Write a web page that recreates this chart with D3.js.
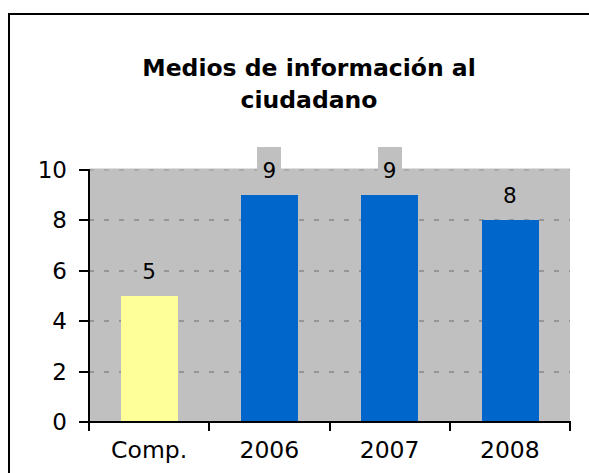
<!DOCTYPE html>
<html><head><meta charset="utf-8">
<script src="https://cdn.jsdelivr.net/npm/d3@7"></script>
<style>html,body{margin:0;padding:0;background:#fff;overflow:hidden}</style>
</head><body>
<script>
const categories = ["Comp.", "2006", "2007", "2008"];
const values = [5, 9, 9, 8];
const barColors = ["#FFFF99", "#0066CC", "#0066CC", "#0066CC"];
const yTicks = [0, 2, 4, 6, 8, 10];
const titleLines = ["Medios de información al", "ciudadano"];

const W = 589, H = 473;
const svg = d3.select("body").append("svg").attr("width", W).attr("height", H);
const font = "DejaVu Sans, Verdana, sans-serif";

// outer border
svg.append("rect").attr("x", 9).attr("y", 14).attr("width", 620).attr("height", 520)
  .attr("fill", "#fff").attr("stroke", "#000").attr("stroke-width", 2);

// title
svg.append("text").attr("x", 309).attr("y", 76).attr("text-anchor", "middle")
  .attr("font-family", font).attr("font-weight", "bold").attr("font-size", 23.5)
  .selectAll("tspan").data(titleLines).join("tspan")
  .attr("x", 309).attr("dy", (d, i) => i === 0 ? 0 : 32).text(d => d);

const L = 89, R = 570, T = 170, B = 422;
const x = d3.scaleBand().domain(categories).range([L, R]).padding(0);
const y = d3.scaleLinear().domain([0, 10]).range([B, T]);
const snap = v => Math.round(v);

// plot area
svg.append("rect").attr("x", L).attr("y", T - 1.5).attr("width", R - L).attr("height", B - T + 1.5).attr("fill", "#C0C0C0");

// gridlines
svg.append("g").selectAll("line").data(yTicks.filter(d => d > 0)).join("line")
  .attr("x1", L).attr("x2", R).attr("y1", d => snap(y(d))).attr("y2", d => snap(y(d)))
  .attr("stroke", "#969696").attr("stroke-width", d => d === 10 ? 1 : 2)
  .attr("stroke-dasharray", "5,10");

// bars
const barW = x.bandwidth() * 0.47;
svg.append("g").selectAll("rect").data(values).join("rect")
  .attr("x", (d, i) => snap(x(categories[i]) + (x.bandwidth() - barW) / 2))
  .attr("y", d => snap(y(d))).attr("width", snap(barW)).attr("height", d => B - snap(y(d)))
  .attr("fill", (d, i) => barColors[i]);

// data labels with grey background
const lab = svg.append("g");
values.forEach((v, i) => {
  const cx = x(categories[i]) + x.bandwidth() / 2;
  const by = y(v) - 17;
  lab.append("rect").attr("x", snap(cx - 12)).attr("y", snap(by - 31)).attr("width", 24).attr("height", 36).attr("fill", "#C0C0C0");
  lab.append("text").attr("x", cx).attr("y", by).attr("text-anchor", "middle")
    .attr("font-family", font).attr("font-size", 21.5).attr("fill", "#000").text(v);
});

// axes
const yAxis = svg.append("g").attr("transform", `translate(${L},0)`)
  .call(d3.axisLeft(y).tickValues(yTicks).tickSize(10).tickFormat(d3.format("d")));
yAxis.select(".domain").attr("stroke", "#000").attr("stroke-width", 2).attr("d", `M0,${T - 1}V${B}`);
yAxis.selectAll(".tick").attr("transform", d => `translate(0,${snap(y(d))})`);
yAxis.selectAll(".tick line").attr("stroke", "#000").attr("stroke-width", 2);
yAxis.selectAll(".tick text").attr("font-family", font).attr("font-size", 23).attr("fill", "#000").attr("x", -22).attr("dy", "0.36em");

const xAxis = svg.append("g").attr("transform", `translate(0,${B})`)
  .call(d3.axisBottom(x).tickSize(0));
xAxis.select(".domain").attr("stroke", "#000").attr("stroke-width", 2).attr("d", `M${L - 1},0H${R + 1}`);
xAxis.selectAll(".tick text").attr("font-family", font).attr("font-size", 23.5).attr("fill", "#000").attr("y", 36).attr("dy", 0);
xAxis.append("g").selectAll("line").data(categories.map(c => x(c)).concat([R])).join("line")
  .attr("x1", d => snap(d)).attr("x2", d => snap(d)).attr("y1", 0).attr("y2", 9)
  .attr("stroke", "#000").attr("stroke-width", 2);
</script>
</body></html>
